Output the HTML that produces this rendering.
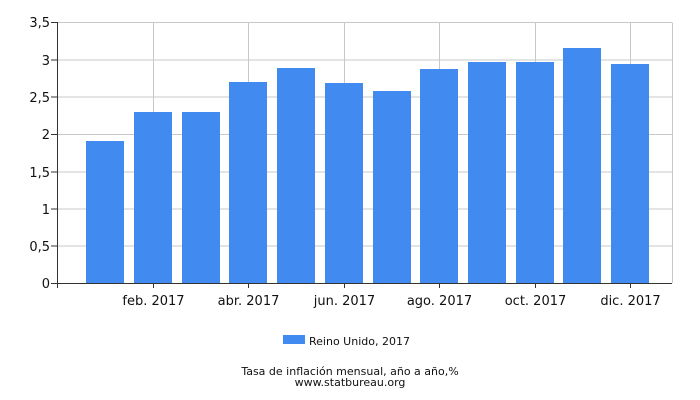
<!DOCTYPE html>
<html><head><meta charset="utf-8"><style>
html,body{margin:0;padding:0;background:#fff;}
svg{display:block;font-family:"DejaVu Sans","Liberation Sans",sans-serif;}
</style></head><body>
<svg width="700" height="400" xmlns="http://www.w3.org/2000/svg">
<rect width="700" height="400" fill="#fff"/>
<g stroke="#c8c8c8" stroke-width="1">
<line x1="57" y1="22.5" x2="672" y2="22.5"/>
<line x1="57" y1="60" x2="672" y2="60"/>
<line x1="57" y1="97" x2="672" y2="97"/>
<line x1="57" y1="134.5" x2="672" y2="134.5"/>
<line x1="57" y1="172" x2="672" y2="172"/>
<line x1="57" y1="209" x2="672" y2="209"/>
<line x1="57" y1="246" x2="672" y2="246"/>
<line x1="153.5" y1="22.5" x2="153.5" y2="283"/>
<line x1="248.5" y1="22.5" x2="248.5" y2="283"/>
<line x1="344.5" y1="22.5" x2="344.5" y2="283"/>
<line x1="439.5" y1="22.5" x2="439.5" y2="283"/>
<line x1="535.5" y1="22.5" x2="535.5" y2="283"/>
<line x1="630.5" y1="22.5" x2="630.5" y2="283"/>
<line x1="672.5" y1="22.5" x2="672.5" y2="283"/>
</g>
<g fill="#418bf0">
<rect x="86" y="141" width="38" height="142.5"/>
<rect x="134" y="112" width="38" height="171.5"/>
<rect x="182" y="112" width="38" height="171.5"/>
<rect x="229" y="82" width="38" height="201.5"/>
<rect x="277" y="68" width="38" height="215.5"/>
<rect x="325" y="83" width="38" height="200.5"/>
<rect x="373" y="91" width="38" height="192.5"/>
<rect x="420" y="69" width="38" height="214.5"/>
<rect x="468" y="62" width="38" height="221.5"/>
<rect x="516" y="62" width="38" height="221.5"/>
<rect x="563" y="48" width="38" height="235.5"/>
<rect x="611" y="64" width="38" height="219.5"/>
</g>
<g stroke="#333" stroke-width="1">
<line x1="57.5" y1="22" x2="57.5" y2="288"/>
<line x1="57" y1="283.5" x2="672" y2="283.5"/>
<line x1="51" y1="22.5" x2="57" y2="22.5"/>
<line x1="51" y1="60" x2="57" y2="60"/>
<line x1="51" y1="97" x2="57" y2="97"/>
<line x1="51" y1="134.5" x2="57" y2="134.5"/>
<line x1="51" y1="172" x2="57" y2="172"/>
<line x1="51" y1="209" x2="57" y2="209"/>
<line x1="51" y1="246" x2="57" y2="246"/>
<line x1="51" y1="283.5" x2="57" y2="283.5"/>
<line x1="153.5" y1="283" x2="153.5" y2="288"/>
<line x1="248.5" y1="283" x2="248.5" y2="288"/>
<line x1="344.5" y1="283" x2="344.5" y2="288"/>
<line x1="439.5" y1="283" x2="439.5" y2="288"/>
<line x1="535.5" y1="283" x2="535.5" y2="288"/>
<line x1="630.5" y1="283" x2="630.5" y2="288"/>
</g>
<g font-size="13" fill="#111" text-anchor="end">
<text x="50" y="27">3,5</text>
<text x="50" y="65">3</text>
<text x="50" y="102">2,5</text>
<text x="50" y="139">2</text>
<text x="50" y="177">1,5</text>
<text x="50" y="214">1</text>
<text x="50" y="251">0,5</text>
<text x="50" y="288">0</text>
</g>
<g font-size="13" fill="#111" text-anchor="middle">
<text x="153.5" y="305">feb. 2017</text>
<text x="248.5" y="305">abr. 2017</text>
<text x="344.5" y="305">jun. 2017</text>
<text x="439.5" y="305">ago. 2017</text>
<text x="535.5" y="305">oct. 2017</text>
<text x="630.5" y="305">dic. 2017</text>
</g>
<rect x="283" y="335" width="22" height="9" fill="#418bf0"/>
<text x="309" y="345" font-size="11" fill="#111">Reino Unido, 2017</text>
<text x="350" y="375" font-size="11" fill="#111" text-anchor="middle">Tasa de inflación mensual, año a año,%</text>
<text x="350" y="386" font-size="11" fill="#111" text-anchor="middle">www.statbureau.org</text>
</svg>
</body></html>
